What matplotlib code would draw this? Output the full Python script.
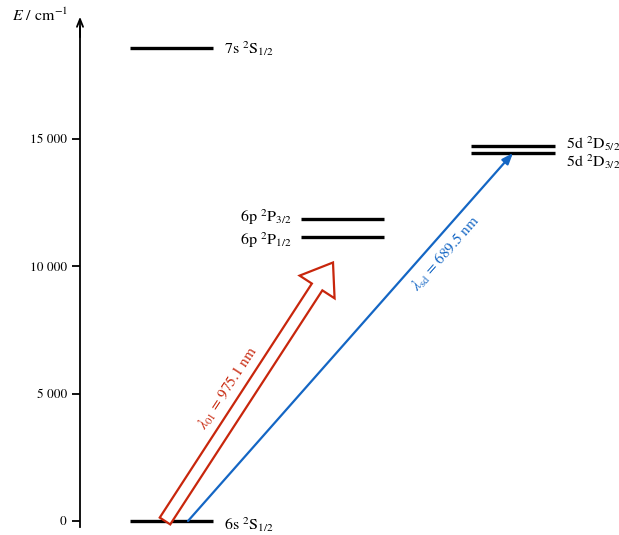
import matplotlib
matplotlib.use("Agg")
import matplotlib.pyplot as plt
from matplotlib.patches import FancyArrowPatch
from matplotlib.ticker import FuncFormatter

plt.rcParams['font.family'] = ['STIXGeneral', 'Liberation Serif', 'DejaVu Serif']
plt.rcParams['mathtext.fontset'] = 'stix'

# ---- data ----
level_names = ["6s", "7s", "6p", "6p", "5d", "5d"]
level_terms = [r"$^{2}\mathrm{S}_{1/2}$", r"$^{2}\mathrm{S}_{1/2}$",
               r"$^{2}\mathrm{P}_{3/2}$", r"$^{2}\mathrm{P}_{1/2}$",
               r"$^{2}\mathrm{D}_{5/2}$", r"$^{2}\mathrm{D}_{3/2}$"]
level_energy = [0, 18560, 11850, 11160, 14720, 14450]   # cm^-1
level_column = [0, 0, 1, 1, 2, 2]

yticks = [0, 5000, 10000, 15000]

trans_labels = [r"$\lambda_{01}$ = 975.1 nm", r"$\lambda_{\mathrm{sd}}$ = 689.5 nm"]
trans_start_E = [0, 0]
trans_end_E = [10150, 14450]

# ---- layout (pixel-like x coordinates) ----
W, H = 619, 535
col_x0 = [130, 301, 471]
col_x1 = [213, 384, 555]
label_baseline_px = [9, 6, 3, 8, 3, 14]   # label baseline offset below the level line, pixels
px_per_E = 0.025467
y0_pix = 521
E_top = y0_pix / px_per_E
E_bot = -(H - y0_pix) / px_per_E

fig = plt.figure(figsize=(W / 100, H / 100), dpi=100)
ax = fig.add_axes([0, 0, 1, 1])
ax.set_xlim(0, W)
ax.set_ylim(E_bot, E_top)

for s in ['top', 'right', 'bottom']:
    ax.spines[s].set_visible(False)
ax.spines['left'].set_position(('data', 80))
ax.spines['left'].set_bounds(-250, 19400)
ax.spines['left'].set_linewidth(1.3)
ax.set_xticks([])
ax.set_yticks(yticks)
ax.yaxis.set_major_formatter(FuncFormatter(lambda v, p: f"{int(v):,}".replace(",", " ")))
ax.tick_params(axis='y', length=6, width=1.3, pad=3.5, labelsize=9.5)

# axis arrow head
ax.annotate("", xy=(80, 19800), xytext=(80, 19000),
            arrowprops=dict(arrowstyle="->,head_length=0.55,head_width=0.22", lw=1.3, color='black',
                            shrinkA=0, shrinkB=0))
ax.text(68, 19869, r"$E$ / cm$^{-1}$", ha='right', va='center', fontsize=11.5)

# levels
for name, term, E, c, off in zip(level_names, level_terms, level_energy, level_column, label_baseline_px):
    ax.plot([col_x0[c], col_x1[c]], [E, E], color='black', lw=2.4, solid_capstyle='butt', zorder=2)
    lab = f"{name} {term}"
    yl = E - off / px_per_E
    if c == 1:
        ax.text(col_x0[c] - 9, yl, lab, ha='right', va='baseline', fontsize=11.5)
    else:
        ax.text(col_x1[c] + 11, yl, lab, ha='left', va='baseline', fontsize=11.5)

# red hollow arrow (6s -> 975.1 nm)
red = '#C8260C'
blue = '#1466C4'
arr = FancyArrowPatch((165, trans_start_E[0]), (333, trans_end_E[0]),
                      arrowstyle="simple,head_length=21,head_width=30,tail_width=9",
                      mutation_scale=1, facecolor='white', edgecolor=red, lw=1.6,
                      shrinkA=0, shrinkB=0, zorder=3, joinstyle='miter')
ax.add_patch(arr)

# blue line arrow (6s -> 5d3/2)
ax.annotate("", xy=(513, trans_end_E[1]), xytext=(188, trans_start_E[1]),
            arrowprops=dict(arrowstyle="-|>,head_length=0.65,head_width=0.25", lw=1.6, color=blue,
                            shrinkA=0, shrinkB=0), zorder=3)

ax.text(228, (y0_pix - 388) / px_per_E, trans_labels[0], color=red, fontsize=11,
        rotation=56.7, rotation_mode='anchor', ha='center', va='center')
ax.text(446, (y0_pix - 254) / px_per_E, trans_labels[1], color=blue, fontsize=11,
        rotation=48.6, rotation_mode='anchor', ha='center', va='center')

fig.savefig("out.png", dpi=100)
